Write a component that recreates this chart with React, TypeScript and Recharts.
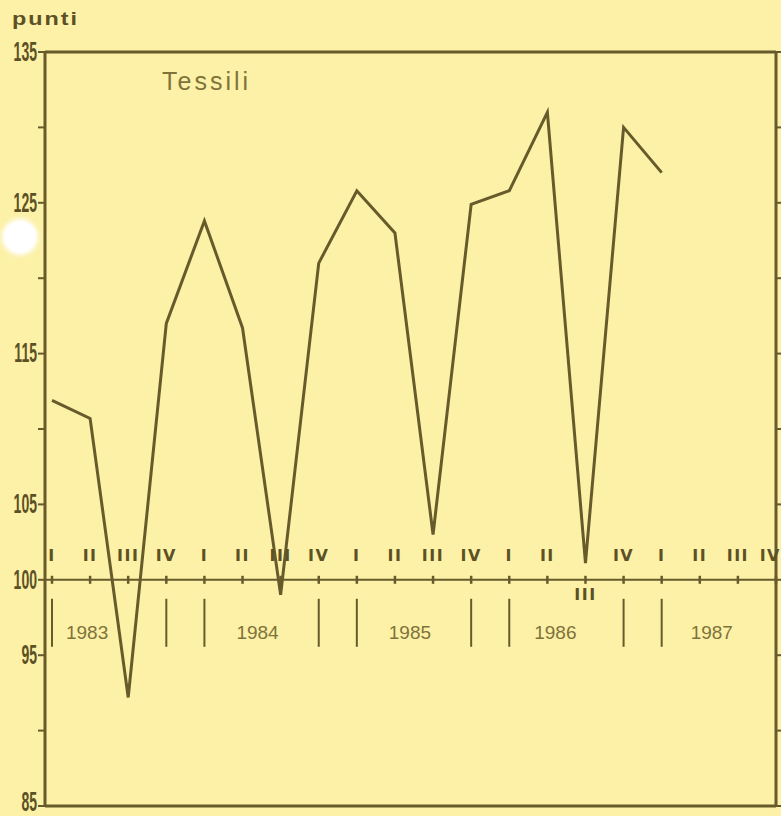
import React from 'react';
import { LineChart, Line, XAxis, YAxis, ReferenceLine } from 'recharts';

// ---- data ----
const years = ['1983', '1984', '1985', '1986', '1987'];
const quarters = ['I', 'II', 'III', 'IV'];
const tessili: (number | null)[] = [
  111.9, 110.7, 92.2, 117.0,
  123.8, 116.7, 99.0, 121.0,
  125.8, 123.0, 103.0, 124.9,
  125.8, 131.0, 101.1, 130.0,
  127.0, null, null, null,
];
const yTicks = [85, 90, 95, 100, 105, 110, 115, 120, 125, 130, 135];
const yLabels = [85, 95, 100, 105, 115, 125, 135];
const baseValue = 100;
const title = 'Tessili';
const unit = 'punti';

const data = years.flatMap((y, yi) =>
  quarters.map((q, qi) => ({
    key: `${y}-${q}`,
    year: y,
    quarter: q,
    yi,
    qi,
    value: tessili[yi * 4 + qi],
    base: baseValue,
  }))
);

// ---- styles ----
const BG = '#fcf1a7';
const LINE = '#675b2b';
const INK = '#5c5125';
const SOFT = '#80733a';
const yearDx = [-3, 15, 15, 8, 12];

const QuarterMark = (props: any) => {
  const { cx, cy, payload, index } = props;
  if (cx == null || cy == null || !payload) return <g key={`qm-${index}`} />;
  const below = payload.key === '1986-III';
  const isFirst = payload.qi === 0;
  const isLast = payload.qi === 3;
  const lastOverall = payload.yi === years.length - 1 && isLast;
  const showSep = (isFirst || isLast) && !lastOverall;
  return (
    <g key={`qm-${index}`}>
      <line x1={cx} x2={cx} y1={cy - 4} y2={cy + 4} stroke={LINE} strokeWidth={2.5} />
      <text
        x={lastOverall ? cx + 5 : cx}
        y={below ? cy + 15 : cy - 24}
        textAnchor={lastOverall ? 'end' : 'middle'}
        dominantBaseline="central"
        fontFamily="DejaVu Sans, sans-serif"
        fontWeight={700}
        fontSize={16}
        letterSpacing={1.5}
        fill={INK}
      >
        {payload.quarter}
      </text>
      {showSep && (
        <line x1={cx} x2={cx} y1={cy + 19} y2={cy + 67} stroke={LINE} strokeWidth={2} />
      )}
      {payload.qi === 1 && (
        <text
          x={cx + yearDx[payload.yi]}
          y={cy + 53}
          textAnchor="middle"
          dominantBaseline="central"
          fontFamily="Liberation Sans, Arial, sans-serif"
          fontSize={19}
          fill={SOFT}
        >
          {payload.year}
        </text>
      )}
    </g>
  );
};

const LeftTick = (props: any) => {
  const { x, y, payload } = props;
  if (!yLabels.includes(payload.value)) return <g />;
  const dy = payload.value === 85 ? -4 : 0;
  return (
    <text
      transform={`translate(${x},${y + dy}) scale(0.52,1)`}
      x={0}
      y={0}
      textAnchor="end"
      dominantBaseline="central"
      fontFamily="Liberation Sans, Arial, sans-serif"
      fontWeight={700}
      fontSize={27}
      fill={INK}
    >
      {payload.value}
    </text>
  );
};

export default function App() {
  return (
    <div style={{ position: 'relative', width: 781, height: 816, background: BG, overflow: 'hidden' }}>
      <style>{`body{margin:0;background:${BG};}`}</style>
      <LineChart
        width={781}
        height={816}
        data={data}
        margin={{ top: 52, right: 0, bottom: 10, left: 0 }}
      >
        <XAxis dataKey="key" hide padding={{ left: 7, right: 0 }} />
        <YAxis
          yAxisId="left"
          type="number"
          width={45}
          domain={[85, 135]}
          ticks={yTicks}
          interval={0}
          allowDataOverflow
          axisLine={{ stroke: LINE, strokeWidth: 3 }}
          tickLine={{ stroke: LINE, strokeWidth: 2 }}
          tickSize={7}
          tickMargin={1}
          tick={(p: any) => <LeftTick {...p} />}
        />
        <YAxis
          yAxisId="right"
          orientation="right"
          type="number"
          width={5}
          domain={[85, 135]}
          ticks={yTicks}
          interval={0}
          allowDataOverflow
          axisLine={{ stroke: LINE, strokeWidth: 3 }}
          tickLine={{ stroke: LINE, strokeWidth: 2 }}
          tickSize={5}
          tick={() => <g />}
        />
        <ReferenceLine yAxisId="left" y={135} stroke={LINE} strokeWidth={3} />
        <ReferenceLine yAxisId="left" y={85} stroke={LINE} strokeWidth={3} />
        <ReferenceLine yAxisId="left" y={baseValue} stroke={LINE} strokeWidth={2} />
        <Line
          yAxisId="right"
          dataKey="base"
          stroke="none"
          dot={QuarterMark}
          activeDot={false}
          isAnimationActive={false}
        />
        <Line
          yAxisId="left"
          dataKey="value"
          type="linear"
          stroke={LINE}
          strokeWidth={3}
          dot={false}
          activeDot={false}
          isAnimationActive={false}
        />
      </LineChart>
      <div
        style={{
          position: 'absolute',
          left: 12,
          top: 10,
          fontFamily: 'Liberation Sans, Arial, sans-serif',
          fontWeight: 700,
          fontSize: 18,
          lineHeight: '18px',
          letterSpacing: 1.5,
          color: INK,
          transform: 'scaleX(1.3)',
          transformOrigin: 'left top',
        }}
      >
        {unit}
      </div>
      <div
        style={{
          position: 'absolute',
          left: 162,
          top: 69,
          fontFamily: 'Liberation Sans, Arial, sans-serif',
          fontSize: 25,
          lineHeight: '25px',
          letterSpacing: 3,
          color: SOFT,
        }}
      >
        {title}
      </div>
      <div
        style={{
          position: 'absolute',
          left: 4,
          top: 221,
          width: 32,
          height: 32,
          borderRadius: '50%',
          background: '#ffffff',
          boxShadow: '0 0 5px 2px #ffffff',
        }}
      />
    </div>
  );
}
